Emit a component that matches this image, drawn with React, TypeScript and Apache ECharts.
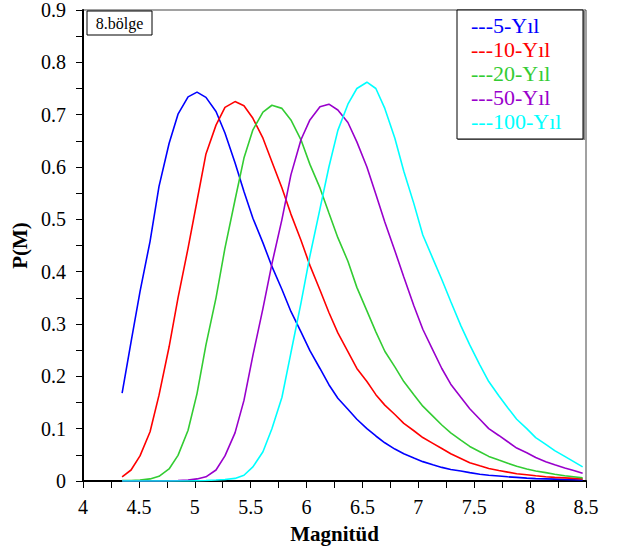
import React, { useEffect, useRef } from "react";
import * as echarts from "echarts";

const magnitudes = [
  4.35, 4.43, 4.51, 4.6, 4.68, 4.77, 4.85, 4.94, 5.02, 5.1,
  5.19, 5.27, 5.36, 5.44, 5.52, 5.61, 5.69, 5.78, 5.86, 5.95,
  6.03, 6.12, 6.2, 6.28, 6.37, 6.45, 6.54, 6.62, 6.7, 6.79,
  6.87, 6.96, 7.04, 7.13, 7.21, 7.29, 7.38, 7.46, 7.55, 7.63,
  7.72, 7.8, 7.88, 7.97, 8.05, 8.14, 8.22, 8.31, 8.39, 8.47,
];

const y5 = [
  0.168, 0.266, 0.362, 0.458, 0.563, 0.645, 0.701, 0.734, 0.743, 0.733,
  0.706, 0.665, 0.608, 0.553, 0.502, 0.455, 0.41, 0.366, 0.324, 0.285,
  0.249, 0.215, 0.184, 0.158, 0.137, 0.118, 0.1, 0.086, 0.073, 0.061,
  0.052, 0.044, 0.037, 0.031, 0.026, 0.022, 0.019, 0.016, 0.013, 0.011,
  0.0095, 0.008, 0.007, 0.0055, 0.0045, 0.004, 0.0035, 0.003, 0.0025, 0.002,
];

const y10 = [
  0.008, 0.021, 0.048, 0.094, 0.164, 0.256, 0.35, 0.445, 0.535, 0.625,
  0.68, 0.714, 0.725, 0.717, 0.693, 0.655, 0.61, 0.56, 0.51, 0.46,
  0.412, 0.365, 0.322, 0.283, 0.247, 0.215, 0.19, 0.165, 0.145, 0.127,
  0.11, 0.096, 0.083, 0.072, 0.062, 0.052, 0.043, 0.035, 0.029, 0.024,
  0.02, 0.017, 0.014, 0.012, 0.01, 0.008, 0.007, 0.006, 0.005, 0.004,
];

const y20 = [
  0.001, 0.001, 0.002, 0.004, 0.009, 0.023, 0.049, 0.097, 0.167, 0.26,
  0.35, 0.445, 0.537, 0.617, 0.671, 0.705, 0.718, 0.712, 0.69, 0.652,
  0.605, 0.56, 0.512, 0.465, 0.42, 0.37, 0.325, 0.285, 0.248, 0.218,
  0.19, 0.165, 0.143, 0.124, 0.107, 0.092, 0.078, 0.066, 0.056, 0.047,
  0.04, 0.034, 0.028, 0.023, 0.019, 0.016, 0.013, 0.01, 0.008, 0.006,
];

const y50 = [
  0, 0, 0, 0, 0, 0.0005, 0.001, 0.002, 0.004, 0.008,
  0.021, 0.048, 0.092, 0.154, 0.24, 0.33, 0.415, 0.5, 0.585, 0.652,
  0.69, 0.715, 0.72, 0.709, 0.685, 0.648, 0.6, 0.548, 0.495, 0.44,
  0.39, 0.335, 0.29, 0.25, 0.215, 0.185, 0.16, 0.138, 0.118, 0.1,
  0.087, 0.075, 0.063, 0.054, 0.045, 0.037, 0.031, 0.025, 0.02, 0.0146,
];

const y100 = [
  0, 0, 0, 0, 0, 0, 0, 0, 0.0005, 0.001,
  0.002, 0.003, 0.005, 0.011, 0.027, 0.056, 0.1, 0.16, 0.245, 0.34,
  0.43, 0.52, 0.6, 0.67, 0.72, 0.75, 0.762, 0.75, 0.712, 0.655,
  0.592, 0.53, 0.47, 0.425, 0.385, 0.343, 0.297, 0.26, 0.222, 0.19,
  0.163, 0.14, 0.118, 0.1, 0.083, 0.07, 0.058, 0.047, 0.037, 0.027,
];

const seriesNames = ["5-Y\u0131l", "10-Y\u0131l", "20-Y\u0131l", "50-Y\u0131l", "100-Y\u0131l"];
const seriesValues = [y5, y10, y20, y50, y100];
const seriesColors = ["#0000ff", "#ff0000", "#33cc33", "#9900cc", "#00ffff"];

const FONT = "Liberation Serif";

export default function App() {
  const ref = useRef<HTMLDivElement>(null);

  useEffect(() => {
    if (!ref.current) return;
    const chart = echarts.init(ref.current, undefined, { renderer: "svg" });
    chart.setOption({
      animation: false,
      backgroundColor: "#ffffff",
      textStyle: { fontFamily: FONT },
      grid: {
        left: 83,
        right: 36,
        top: 8,
        bottom: 73,
        show: true,
        borderColor: "#444",
        borderWidth: 1,
      },
      xAxis: {
        type: "value",
        min: 4,
        max: 8.5,
        interval: 0.5,
        name: "Magnit\u00fcd",
        nameLocation: "middle",
        nameGap: 42,
        nameTextStyle: { fontFamily: FONT, fontSize: 21, fontWeight: "bold", color: "#000" },
        axisLine: { onZero: false, lineStyle: { color: "#000", width: 2 } },
        axisTick: { show: true, inside: false, length: 7, lineStyle: { color: "#000", width: 1 } },
        minorTick: { show: true, splitNumber: 2, length: 7, lineStyle: { color: "#000", width: 1 } },
        axisLabel: { fontFamily: FONT, fontSize: 20, color: "#000", margin: 16 },
        splitLine: { show: false },
      },
      yAxis: {
        type: "value",
        min: 0,
        max: 0.9,
        interval: 0.1,
        name: "P(M)",
        nameLocation: "middle",
        nameGap: 48,
        nameTextStyle: { fontFamily: FONT, fontSize: 21, fontWeight: "bold", color: "#000" },
        axisLine: { onZero: false, lineStyle: { color: "#000", width: 2 } },
        axisTick: { show: true, inside: false, length: 7, lineStyle: { color: "#000", width: 1 } },
        minorTick: { show: true, splitNumber: 2, length: 7, lineStyle: { color: "#000", width: 1 } },
        axisLabel: {
          fontFamily: FONT,
          fontSize: 20,
          color: "#000",
          margin: 17,
          formatter: (v: number) => (v === 0 ? "0" : v.toFixed(1)),
        },
        splitLine: { show: false },
      },
      legend: {
        orient: "vertical",
        left: 466,
        top: 13,
        z: 20,
        icon: "none",
        itemWidth: 0,
        itemHeight: 24,
        itemGap: 0,
        padding: 0,
        selectedMode: false,
        formatter: (n: string) => "---" + n,
        textStyle: { fontFamily: FONT, fontSize: 22, lineHeight: 24 },
        data: seriesNames.map((n, i) => ({
          name: n,
          textStyle: { color: seriesColors[i], fontFamily: FONT, fontSize: 22 },
        })),
      },
      graphic: [
        {
          type: "rect",
          z: 1,
          shape: { x: 458, y: 11, width: 127, height: 129 },
          style: { fill: "#888" },
        },
        {
          type: "rect",
          z: 1,
          shape: { x: 457, y: 10, width: 126, height: 129 },
          style: { fill: "#fff", stroke: "#000", lineWidth: 1 },
        },
        {
          type: "rect",
          z: 1,
          shape: { x: 87, y: 11, width: 65, height: 24 },
          style: { fill: "#fff", stroke: "#000", lineWidth: 1 },
        },
        {
          type: "text",
          z: 2,
          x: 119.5,
          y: 23.5,
          style: {
            text: "8.b\u00f6lge",
            fontFamily: FONT,
            fontSize: 16,
            fill: "#000",
            align: "center",
            verticalAlign: "middle",
          },
        },
      ],
      series: seriesNames.map((name, i) => ({
        name,
        type: "line",
        showSymbol: false,
        symbol: "none",
        z: 2,
        lineStyle: { color: seriesColors[i], width: 1.6 },
        itemStyle: { color: seriesColors[i] },
        data: magnitudes.map((m, j) => [m, seriesValues[i][j]]),
      })),
    });
    return () => chart.dispose();
  }, []);

  return (
    <div
      ref={ref}
      style={{ position: "absolute", left: 0, top: 0, width: 622, height: 554, background: "#fff" }}
    />
  );
}
